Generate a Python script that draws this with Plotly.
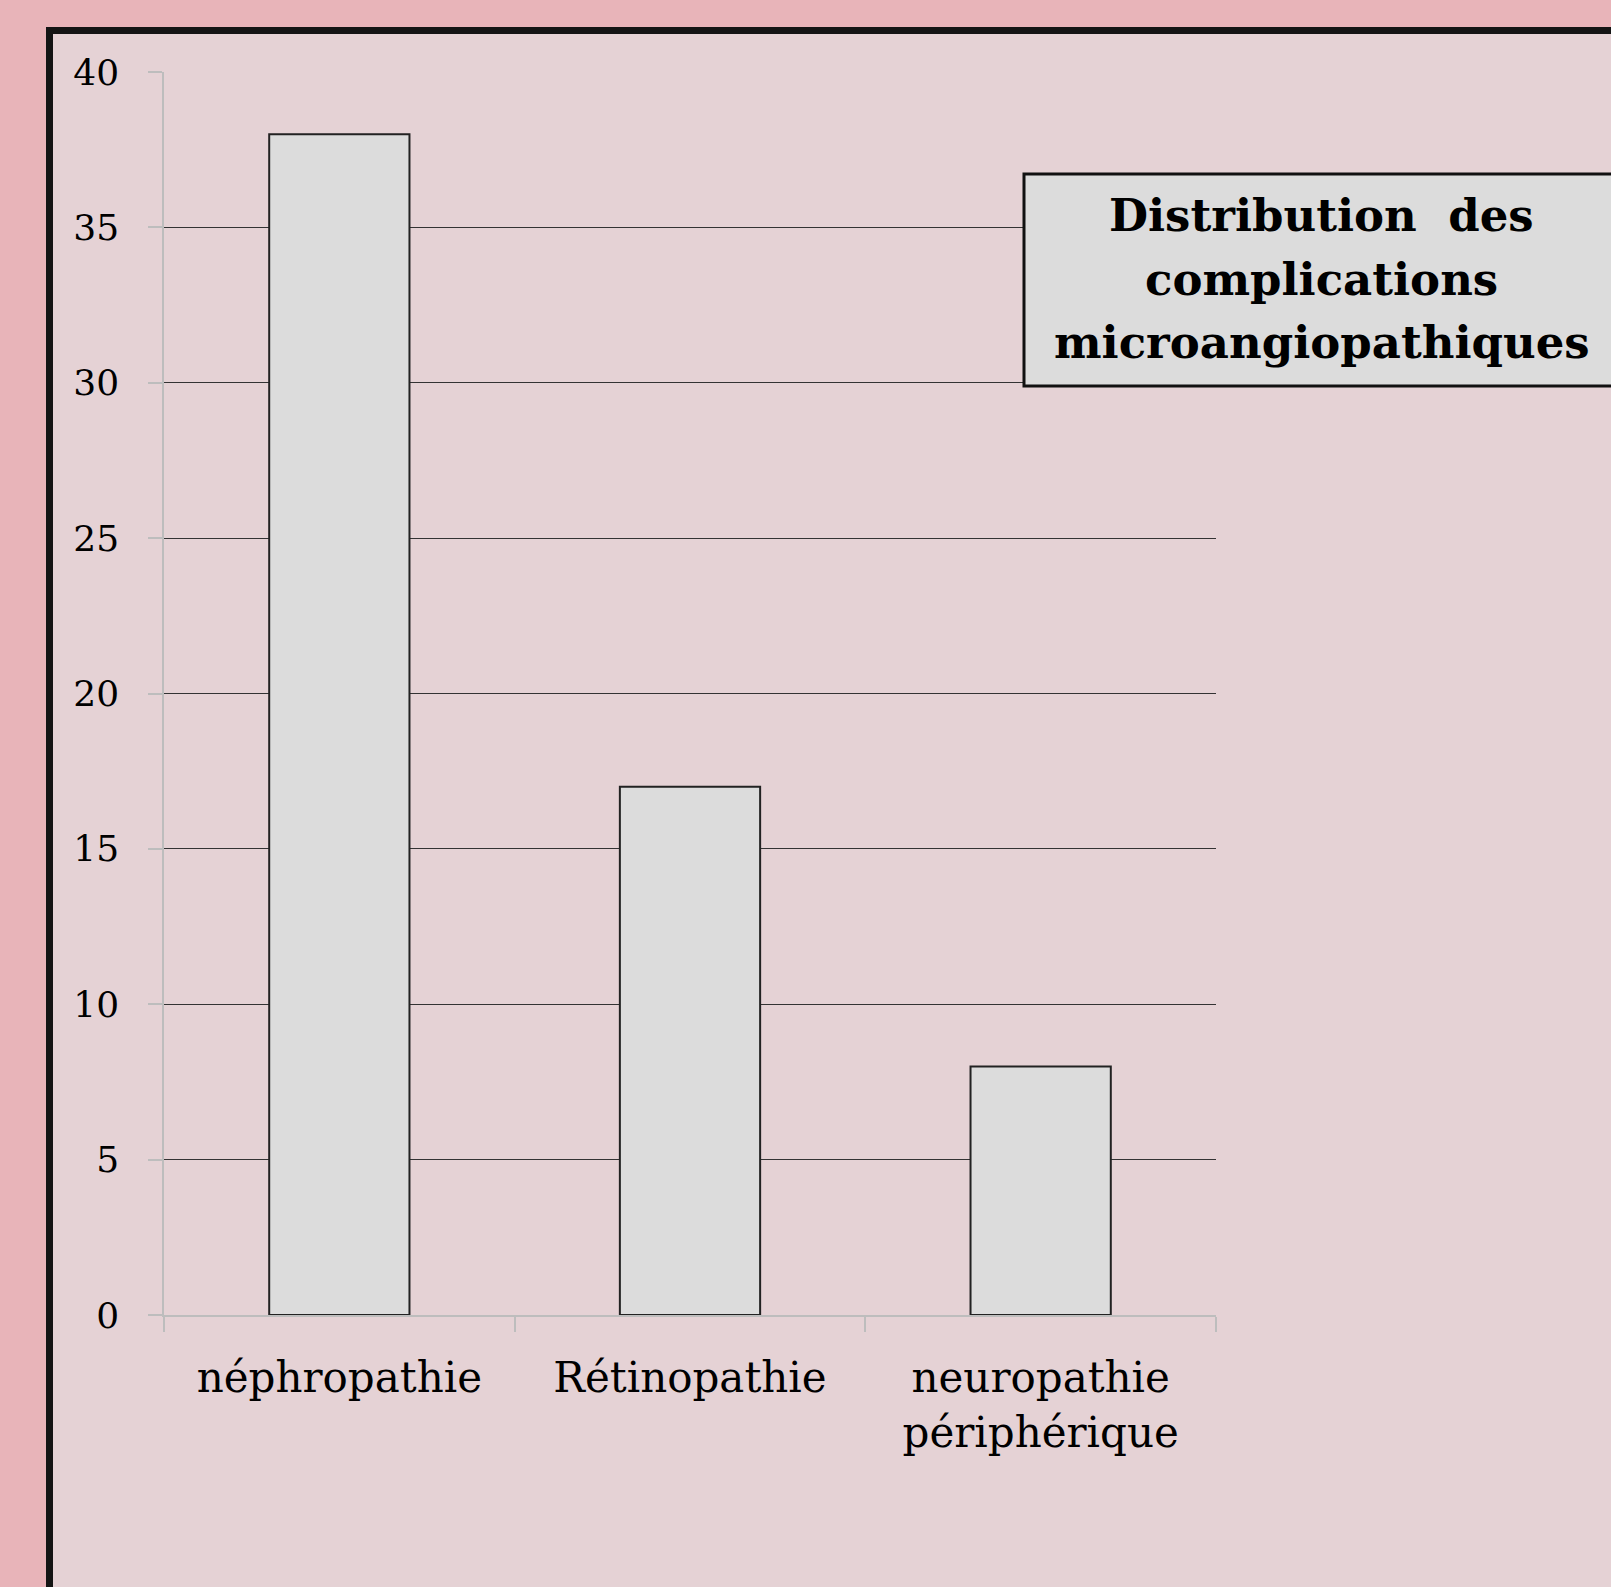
import plotly.graph_objects as go

# ---- data ----
categories = ["néphropathie", "Rétinopathie", "neuropathie<br>périphérique"]
values = [38, 17, 8]
y_tickvals = [0, 5, 10, 15, 20, 25, 30, 35, 40]
y_ticktext = ["0", "5", "10", "15", "20", "25", "30", "35", "40"]
title_lines = ["Distribution  des", "complications", "microangiopathiques"]

W, H = 1611, 1587


def px(x):
    return x / W


def py(y):
    return 1 - y / H


OUTER = "#e8b4b9"
INNER = "#e5d2d5"
BAR_FILL = "#dcdcdc"
FONT = "DejaVu Serif"

fig = go.Figure()
fig.add_trace(go.Bar(
    x=categories, y=values, width=0.4,
    marker=dict(color=BAR_FILL, line=dict(color="#222222", width=2)),
    showlegend=False, hoverinfo="skip",
))

shapes = [
    # slide frame
    dict(type="rect", xref="paper", yref="paper",
         x0=px(49.5), x1=px(1700), y0=py(30.5), y1=py(1700),
         fillcolor=INNER, line=dict(color="#141414", width=7), layer="below"),
    # title box
    dict(type="rect", xref="paper", yref="paper",
         x0=px(1024), x1=px(1660), y0=py(174), y1=py(386),
         fillcolor=BAR_FILL, line=dict(color="#111111", width=3), layer="above"),
]

line_centres = [216, 279, 342]
annotations = [
    dict(xref="paper", yref="paper", x=px(1321.5), y=py(yc),
         xanchor="center", yanchor="middle", showarrow=False,
         text="<b>" + t + "</b>", align="center",
         font=dict(family=FONT, size=45, color="#000000"))
    for t, yc in zip(title_lines, line_centres)
]

fig.update_layout(
    width=W, height=H,
    margin=dict(l=0, r=0, t=0, b=0, autoexpand=False),
    paper_bgcolor=OUTER,
    plot_bgcolor="rgba(0,0,0,0)",
    shapes=shapes,
    annotations=annotations,
    bargap=0.6,
    xaxis=dict(
        domain=[px(164), px(1216)],
        automargin=False,
        showline=True, linecolor="#bdbdbd", linewidth=1.5,
        ticks="outside", tickson="boundaries", ticklen=15,
        tickcolor="#bdbdbd", tickwidth=1.5,
        showgrid=False,
        tickfont=dict(family=FONT, size=42, color="#000000"),
        ticklabelstandoff=25,
    ),
    yaxis=dict(
        domain=[py(1315), py(72)],
        automargin=False,
        range=[0, 40],
        tickvals=y_tickvals, ticktext=y_ticktext,
        showline=True, linecolor="#bdbdbd", linewidth=1.5,
        ticks="outside", ticklen=14, tickcolor="#bdbdbd", tickwidth=1.5,
        showgrid=True, gridcolor="#333333", gridwidth=1.2,
        zeroline=False,
        tickfont=dict(family=FONT, size=36, color="#000000"),
        ticklabelstandoff=22,
    ),
)

fig.write_html("out.html",
               config={"displayModeBar": False},
               post_script="document.body.style.margin='0';")
